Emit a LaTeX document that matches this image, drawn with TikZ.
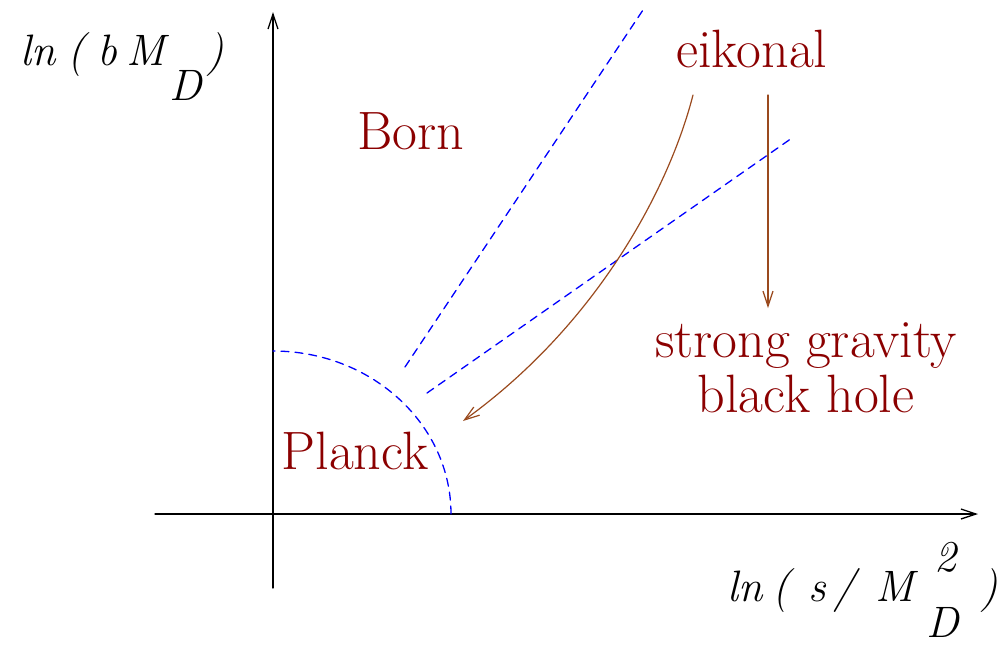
\documentclass[tikz,border=0pt]{standalone}
\usepackage{tikz}
\usetikzlibrary{arrows.meta}
\definecolor{labelred}{HTML}{8B0000}
\definecolor{flowbrown}{HTML}{9A4A1E}
\definecolor{edgeblue}{HTML}{0000FF}
\tikzset{
  every picture/.style={
    line join=round,
    line cap=round,
    >={Straight Barb[length=7.5pt,width=5pt]}, % open tips, as in the plot
  },
}

\begin{document}
\begin{tikzpicture}[x=0.5pt,y=-0.5pt,
  axis/.style={line width=0.65pt},
  border/.style={edgeblue, line width=0.65pt, dash pattern=on 4pt off 3pt},
  flow/.style={flowbrown, line width=0.6pt, ->},
  region/.style={labelred, font=\fontsize{27}{32}\selectfont, inner sep=0pt, anchor=base},
  axlabel/.style={font=\fontsize{22}{26}\selectfont\itshape, inner sep=0pt, anchor=base west}]
\useasboundingbox (0,0) rectangle (998,645);
% axes
\coordinate (ybot) at (273,588);
\coordinate (ytop) at (273,12);
\coordinate (xleft) at (155,514);
\coordinate (xright) at (978,514);
\draw[axis,->] (ybot) -- (ytop);
\draw[axis,->] (xleft) -- (xright);
\node[axlabel] (ylab) at (20,65)
  {ln\hspace{6pt}(\hspace{6pt}b\hspace{5pt}M\hspace{2pt}\raisebox{-17.5pt}{D}\hspace{2pt})};
\node[axlabel] (xlab) at (727,601)
  {ln\hspace{5pt}(\hspace{9pt}s\hspace{4pt}/\hspace{10pt}M\hspace{6pt}\rlap{\hspace{4pt}\raisebox{15pt}{2}}\raisebox{-18pt}{D}\hspace{11pt})};
% region boundaries
\draw[border] (451,514) arc[start angle=0,end angle=-90,x radius=178,y radius=163];
\draw[border] (405,367) -- (643,10);
\draw[border] (427,393) -- (792,138);
% regions
\node[region] (born) at (411,149) {Born};
\node[region] (planck) at (355,469) {Planck};
\node[region] (eik) at (752,67) {eikonal};
\node[region] (strong) at (806,357) {strong gravity};
\node[region] (bh) at (806,412) {black hole};
% eikonal flows
\coordinate (bend) at (693,95);
\coordinate (bendtip) at (463,421);
\coordinate (drop) at (768,95);
\coordinate (droptip) at (768,308);
\draw[flow] (bend) .. controls (670,185) and (600,322) .. (bendtip);
\draw[flow] (drop) -- (droptip);
\end{tikzpicture}
\end{document}
